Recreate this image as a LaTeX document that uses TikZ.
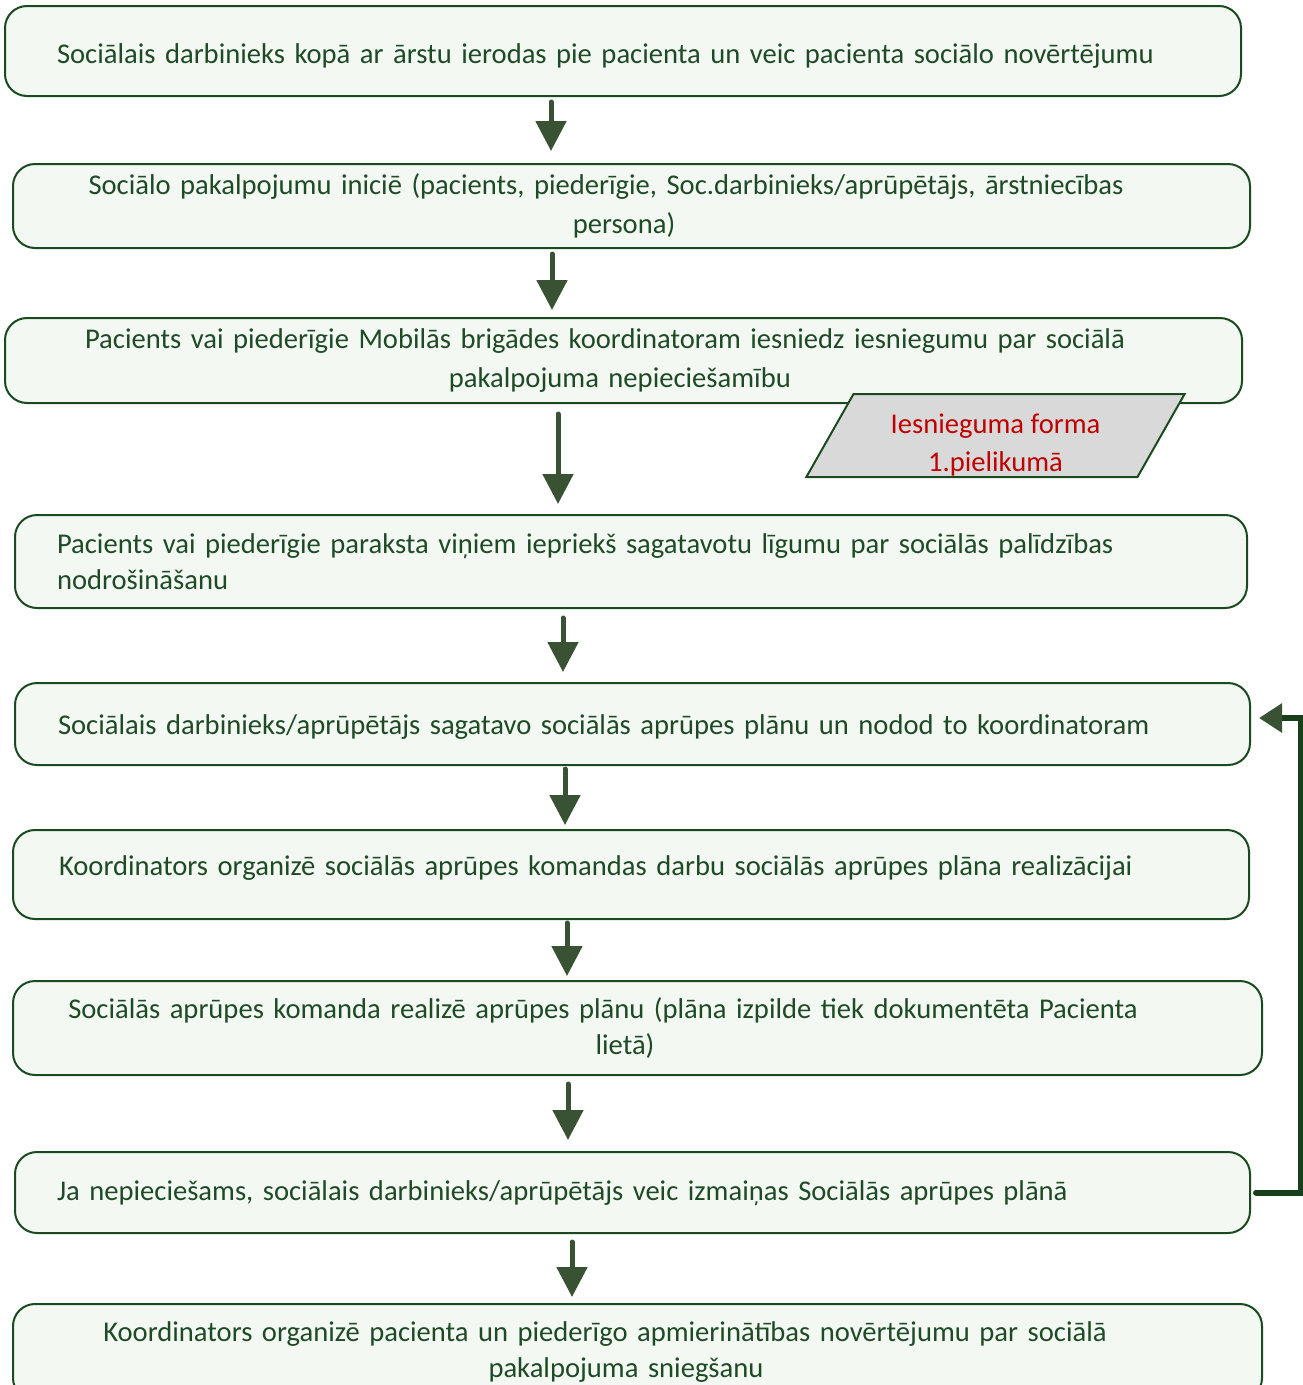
\documentclass[tikz,border=0pt]{standalone}
\usepackage{fontspec}
\setmainfont{Carlito}
\usetikzlibrary{arrows.meta,shapes.geometric}
\definecolor{boxline}{HTML}{1B4A20}
\definecolor{boxtext}{HTML}{1E4A26}
\definecolor{boxfill}{HTML}{F3F8F3}
\definecolor{flowgreen}{HTML}{3A5234}
\definecolor{loopgreen}{HTML}{173F1C}
\definecolor{formred}{HTML}{C00000}
\definecolor{formfill}{HTML}{D9D9D9}
\tikzset{
  stepbox/.style={draw=boxline, line width=2pt, fill=boxfill, rounded corners=22pt,
    text=boxtext, inner ysep=0pt, font=\fontsize{28.6}{36.5}\selectfont},
  leftshift/.style={execute at begin node={\leftskip=0pt plus 1fil\rightskip=#1 plus 1fil\parfillskip=0pt\relax}},
  flow/.style={draw=flowgreen, line width=5pt, line cap=round,
    -{Triangle[width=30pt,length=30pt]}},
  loopback/.style={draw=loopgreen, line width=6pt, line cap=round,
    -{Triangle[width=28pt,length=23pt,color=flowgreen]}},
  formbox/.style={draw=boxline, line width=2pt, fill=formfill, text=formred,
    trapezium, trapezium left angle=66.6, trapezium right angle=113.4,
    trapezium stretches=true, inner ysep=0pt, align=center, font=\fontsize{28.6}{37.5}\selectfont}
}

\begin{document}
\begin{tikzpicture}[x=1pt,y=-1pt]
    \useasboundingbox (0,0) rectangle (1302,1385);
    % steps
    \node[stepbox, minimum height=90pt, inner xsep=52pt, text width=1132pt, align=left,
        text height=30pt, text depth=6pt] (n1) at (623,51)
        {Sociālais darbinieks kopā ar ārstu ierodas pie pacienta un veic pacienta sociālo novērtējumu};
    \node[stepbox, minimum height=84pt, inner xsep=20pt, text width=1197pt, align=center, leftshift=51pt,
        font=\fontsize{28.6}{39}\selectfont] (n2) at (631.5,206)
        {Sociālo pakalpojumu iniciē (pacients, piederīgie, Soc.darbinieks/aprūpētājs, ārstniecības\\ \hspace*{36pt}persona)};
    \node[stepbox, minimum height=85pt, inner xsep=20pt, text width=1197pt, align=center, leftshift=37pt,
        font=\fontsize{28.6}{39}\selectfont] (n3) at (623.5,360.5)
        {Pacients vai piederīgie Mobilās brigādes koordinatoram iesniedz iesniegumu par sociālā\\ \hspace*{30pt}pakalpojuma nepieciešamību};
    \node[formbox, minimum width=379pt, minimum height=83pt, text height=77pt, text depth=6pt] (form) at (995.5,435.5)
        {Iesnieguma forma\\ 1.pielikumā};
    \node[stepbox, minimum height=93pt, inner xsep=42pt, text width=1148pt, align=left] (n4) at (631,561.5)
        {Pacients vai piederīgie paraksta viņiem iepriekš sagatavotu līgumu par sociālās palīdzības\\ nodrošināšanu};
    \node[stepbox, minimum height=82pt, inner xsep=43pt, text width=1149pt, align=left,
        text height=26pt, text depth=6pt] (n5) at (632.5,724)
        {Sociālais darbinieks/aprūpētājs sagatavo sociālās aprūpes plānu un nodod to koordinatoram};
    \node[stepbox, minimum height=89pt, inner xsep=46pt, text width=1144pt, align=left,
        text height=7pt, text depth=6pt] (n6) at (631,874.5)
        {Koordinators organizē sociālās aprūpes komandas darbu sociālās aprūpes plāna realizācijai};
    \node[stepbox, minimum height=94pt, inner xsep=20pt, text width=1209pt, align=center, leftshift=69pt] (n7) at (637.5,1028)
        {Sociālās aprūpes komanda realizē aprūpes plānu (plāna izpilde tiek dokumentēta Pacienta\\ \hspace*{44pt}lietā)};
    \node[stepbox, minimum height=81pt, inner xsep=42pt, text width=1151pt, align=left,
        text height=21pt, text depth=6pt] (n8) at (632.5,1192.5)
        {Ja nepieciešams, sociālais darbinieks/aprūpētājs veic izmaiņas Sociālās aprūpes plānā};
    \node[stepbox, minimum height=96pt, inner xsep=20pt, text width=1209pt, align=center, leftshift=65pt] (n9) at (637.5,1352)
        {Koordinators organizē pacienta un piederīgo apmierinātības novērtējumu par sociālā\\ \hspace*{42pt}pakalpojuma sniegšanu};
    % arrows
    \draw[flow, shorten <=5pt, shorten >=12pt] ([xshift=-72pt]n1.south) -- ([xshift=-72pt]n1.south |- n2.north);
    \draw[flow, shorten <=5pt, shorten >=7pt] ([xshift=-79.5pt]n2.south) -- ([xshift=-79.5pt]n2.south |- n3.north);
    \draw[flow, shorten <=10pt, shorten >=10pt] ([xshift=-65.5pt]n3.south) -- ([xshift=-65.5pt]n3.south |- n4.north);
    \draw[flow, shorten <=9pt, shorten >=10pt] ([xshift=-68pt]n4.south) -- ([xshift=-68pt]n4.south |- n5.north);
    \draw[flow, shorten <=3pt, shorten >=4pt] ([xshift=-67.5pt]n5.south) -- ([xshift=-67.5pt]n5.south |- n6.north);
    \draw[flow, shorten <=3pt, shorten >=4pt] ([xshift=-64pt]n6.south) -- ([xshift=-64pt]n6.south |- n7.north);
    \draw[flow, shorten <=8pt, shorten >=11pt] ([xshift=-69.5pt]n7.south) -- ([xshift=-69.5pt]n7.south |- n8.north);
    \draw[flow, shorten <=8pt, shorten >=6pt] ([xshift=-60.5pt]n8.south) -- ([xshift=-60.5pt]n8.south |- n9.north);
    % back to planning
    \draw[loopback, shorten <=5pt, shorten >=8pt] (n8.east) -- ++(50,0) |- ([yshift=6pt]n5.east);
\end{tikzpicture}
\end{document}
